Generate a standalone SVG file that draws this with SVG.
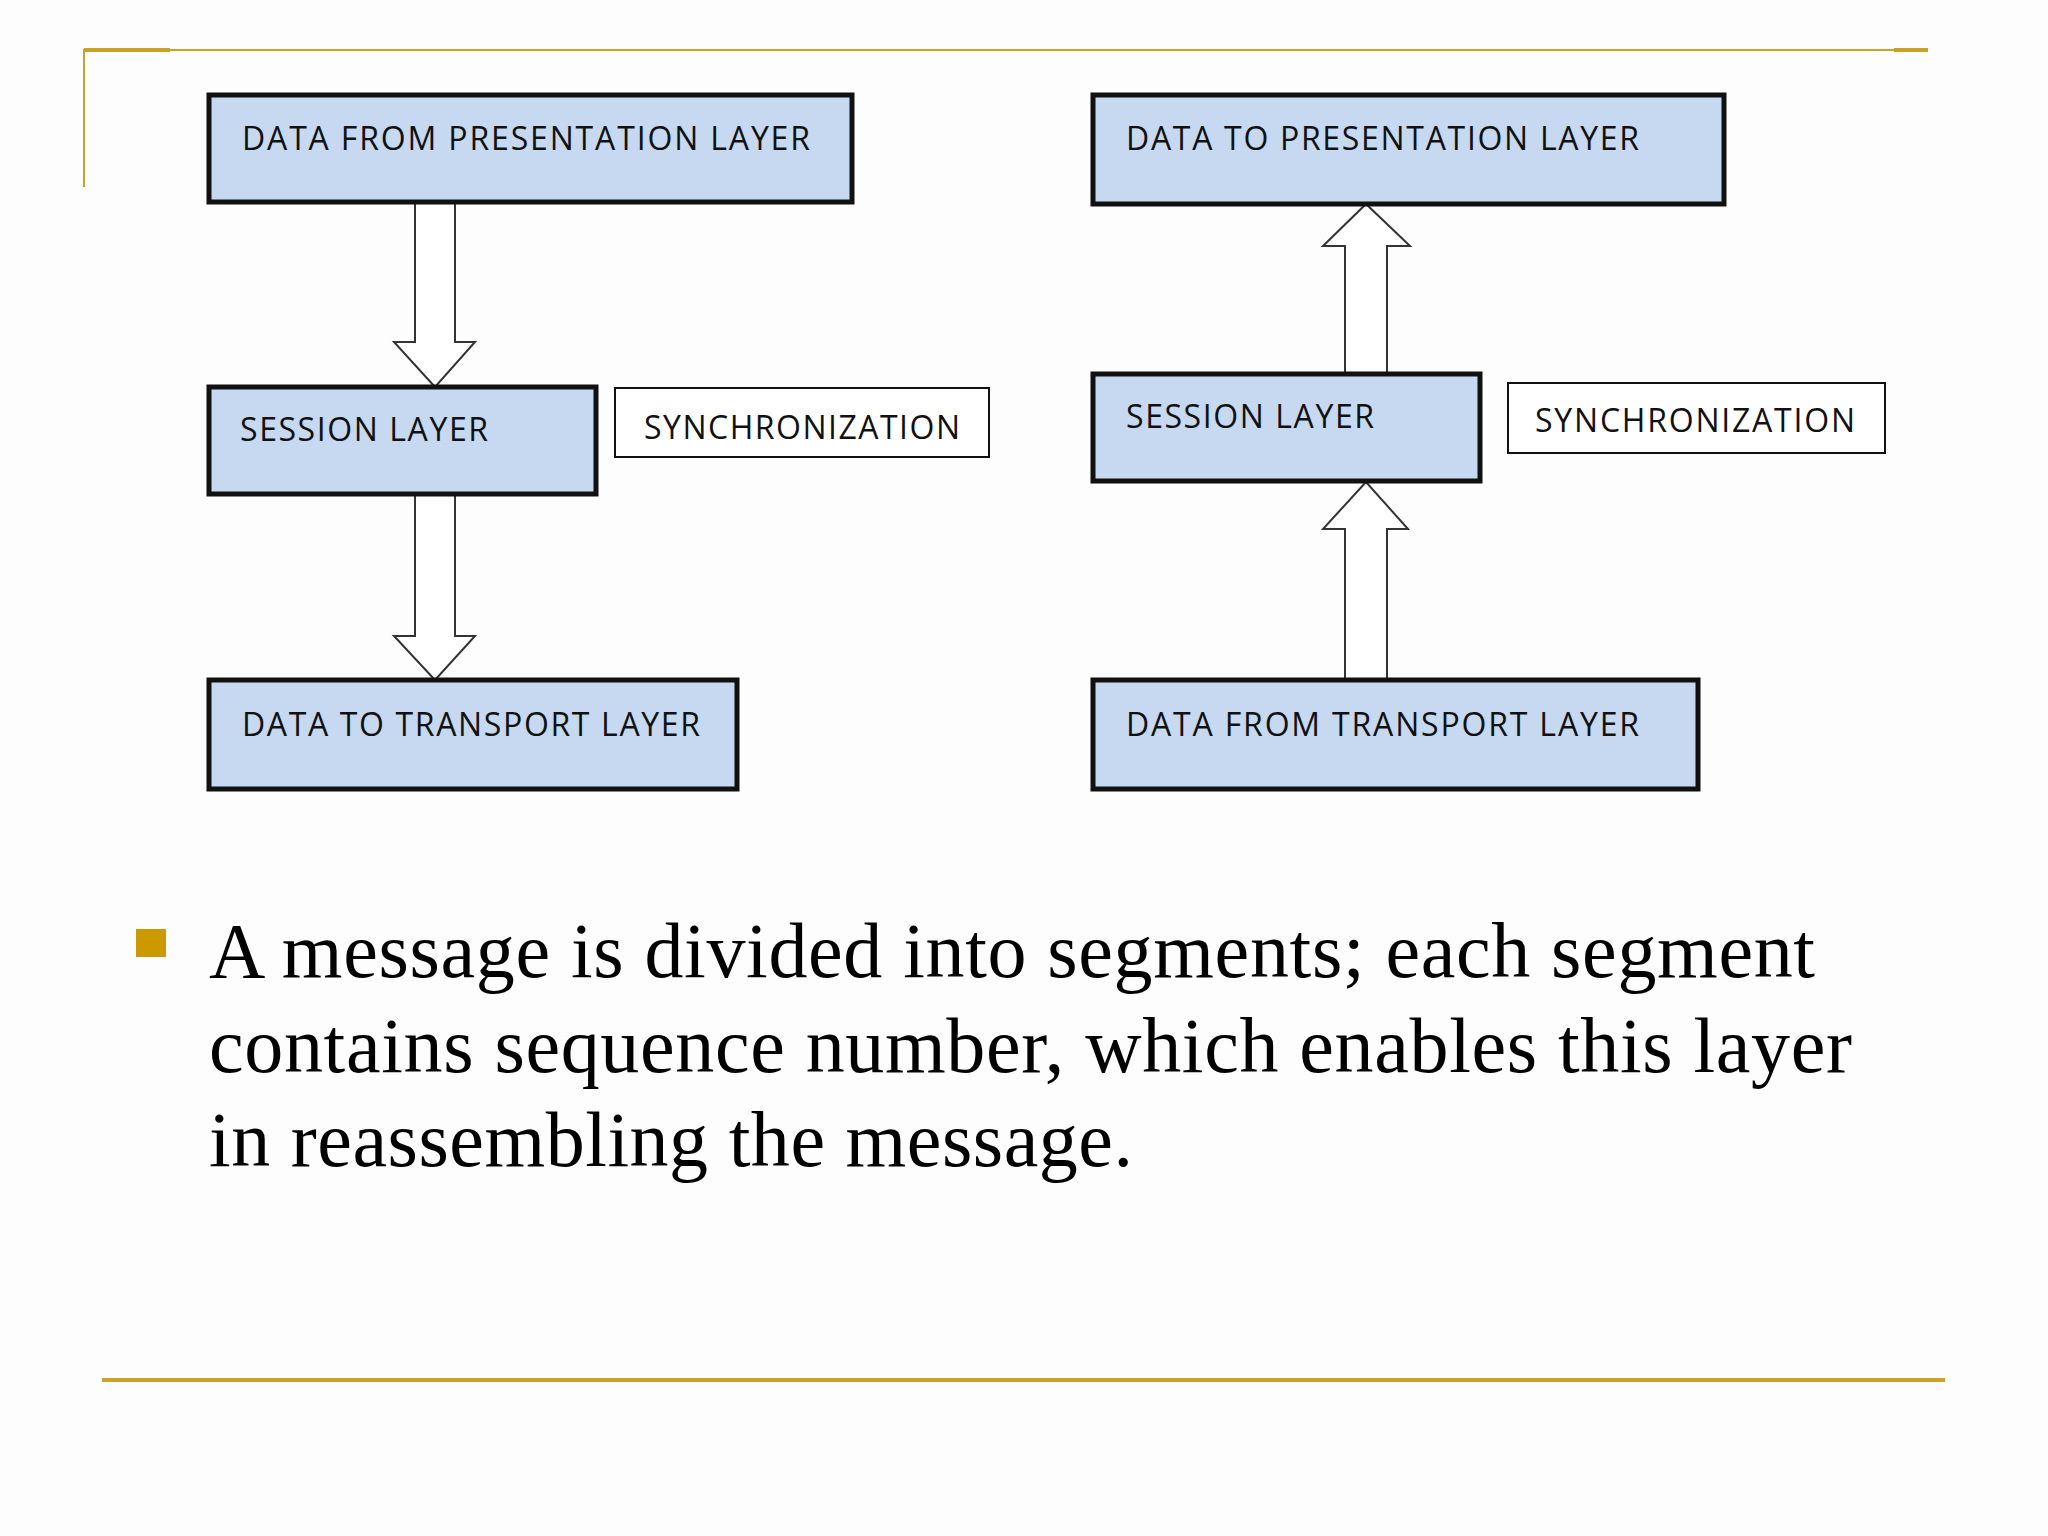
<svg xmlns="http://www.w3.org/2000/svg" width="2048" height="1536" viewBox="0 0 2048 1536">
<style>
.box{fill:#c6d9f1;stroke:#111;stroke-width:5}
.sync{fill:#fff;stroke:#111;stroke-width:2}
.lbl{font-family:"Open Sans","Liberation Sans",sans-serif;font-size:32px;fill:#111}
.arr{fill:#fff;stroke:#333;stroke-width:2}
.body{font-family:"Liberation Serif",serif;font-size:78px;fill:#000}
.gold{stroke:#c9a227;fill:none}
</style>
<rect width="2048" height="1536" fill="#fdfdfd"/>
<path class="gold" d="M84 187V50H1928" stroke-width="2"/>
<path class="gold" d="M84 50H170M1894 50H1928" stroke-width="4"/>
<line class="gold" x1="102" y1="1380" x2="1945" y2="1380" stroke-width="4"/>
<g id="connectors">
<polygon class="arr" points="415,202 455,202 455,342 475,342 435,387 394,342 415,342"/>
<polygon class="arr" points="415,494 455,494 455,636 475,636 435,680 394,636 415,636"/>
<polygon class="arr" points="1345,374 1387,374 1387,246 1410,246 1366,204 1323,246 1345,246"/>
<polygon class="arr" points="1345,680 1387,680 1387,529 1408,529 1366,482 1323,529 1345,529"/>
</g>
<g id="n1"><rect class="box" x="209" y="95" width="643" height="107"/><text class="lbl" x="242" y="150" textLength="568">DATA FROM PRESENTATION LAYER</text></g>
<g id="n2"><rect class="box" x="209" y="387" width="387" height="107"/><text class="lbl" x="240" y="441" textLength="248">SESSION LAYER</text></g>
<g id="n3"><rect class="sync" x="615" y="388" width="374" height="69"/><text class="lbl" x="644" y="439" textLength="316">SYNCHRONIZATION</text></g>
<g id="n4"><rect class="box" x="209" y="680" width="528" height="109"/><text class="lbl" x="242" y="736" textLength="458">DATA TO TRANSPORT LAYER</text></g>
<g id="n5"><rect class="box" x="1093" y="95" width="631" height="109"/><text class="lbl" x="1126" y="150" textLength="513">DATA TO PRESENTATION LAYER</text></g>
<g id="n6"><rect class="box" x="1093" y="374" width="387" height="107"/><text class="lbl" x="1126" y="428" textLength="248">SESSION LAYER</text></g>
<g id="n7"><rect class="sync" x="1508" y="383" width="377" height="70"/><text class="lbl" x="1535" y="432" textLength="320">SYNCHRONIZATION</text></g>
<g id="n8"><rect class="box" x="1093" y="680" width="605" height="109"/><text class="lbl" x="1126" y="736" textLength="513">DATA FROM TRANSPORT LAYER</text></g>
<rect x="136" y="929" width="30" height="28" fill="#cc9900"/>
<text class="body" x="209" y="977" textLength="1606">A message is divided into segments; each segment</text>
<text class="body" x="209" y="1072" textLength="1643">contains sequence number, which enables this layer</text>
<text class="body" x="209" y="1166" textLength="924">in reassembling the message.</text>
</svg>
